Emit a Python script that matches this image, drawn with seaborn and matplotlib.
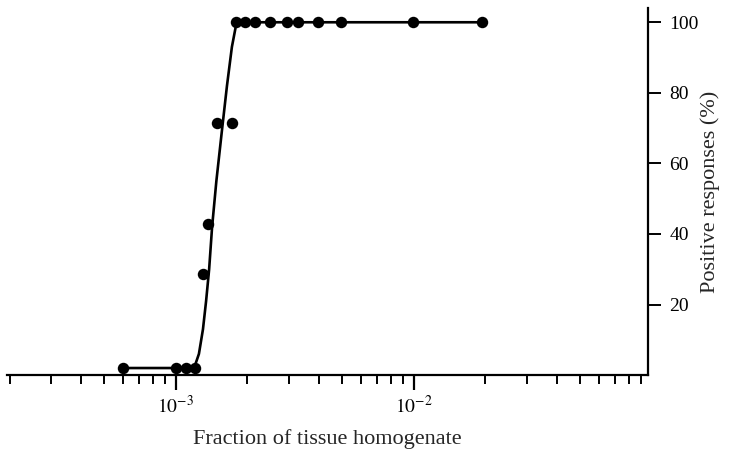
import matplotlib
matplotlib.use("Agg")
import matplotlib.pyplot as plt
import matplotlib.ticker as mticker
import seaborn as sns
import pandas as pd
import numpy as np

# Observed data points
fraction = [6e-4, 1.0e-3, 1.1e-3, 1.2e-3, 1.30e-3, 1.37e-3, 1.49e-3, 1.72e-3,
            1.79e-3, 1.95e-3, 2.15e-3, 2.48e-3, 2.93e-3, 3.25e-3, 3.95e-3,
            4.94e-3, 9.9e-3, 1.93e-2]
response = [2, 2, 2, 2, 28.6, 42.9, 71.4, 71.4,
            100, 100, 100, 100, 100, 100, 100,
            100, 100, 100]

# Fitted curve
curve_x = [6e-4, 1.0e-3, 1.2e-3, 1.25e-3, 1.30e-3, 1.34e-3, 1.38e-3, 1.42e-3,
           1.48e-3, 1.56e-3, 1.64e-3, 1.72e-3, 1.80e-3, 2e-2]
curve_y = [2, 2, 2.5, 6, 13, 21, 30, 42, 55, 69, 82, 93, 100, 100]

y_ticks = [20, 40, 60, 80, 100]
x_major = [1e-3, 1e-2]
x_major_labels = [r"$10^{-3}$", r"$10^{-2}$"]

sns.set_theme(style="ticks")
plt.rcParams["font.family"] = ["Liberation Serif", "DejaVu Serif"]
plt.rcParams["mathtext.fontset"] = "stix"

pts = pd.DataFrame({"fraction": fraction, "response": response})
crv = pd.DataFrame({"x": curve_x, "y": curve_y})

fig = plt.figure(figsize=(7.34, 4.53), dpi=100)
ax = fig.add_axes([0.0095, 0.172, 0.874, 0.810])

sns.lineplot(data=crv, x="x", y="y", ax=ax, color="black", linewidth=1.9,
             sort=False, estimator=None)
sns.scatterplot(data=pts, x="fraction", y="response", ax=ax, color="black",
                s=68, edgecolor="black", linewidth=0, zorder=5)

ax.set_xscale("log")
ax.set_xlim(1.95e-4, 0.097)
ax.set_ylim(0, 104)

ax.xaxis.set_major_locator(mticker.FixedLocator(x_major))
ax.xaxis.set_major_formatter(mticker.FixedFormatter(x_major_labels))
ax.xaxis.set_minor_locator(mticker.LogLocator(base=10, subs=np.arange(2, 10)))
ax.xaxis.set_minor_formatter(mticker.NullFormatter())

ax.yaxis.tick_right()
ax.yaxis.set_label_position("right")
ax.set_yticks(y_ticks)

for s in ["top", "left"]:
    ax.spines[s].set_visible(False)
for s in ["bottom", "right"]:
    ax.spines[s].set_linewidth(1.6)
    ax.spines[s].set_color("black")

ax.tick_params(axis="x", which="major", direction="out", length=11, width=1.6,
               labelsize=14, pad=3, colors="black")
ax.tick_params(axis="x", which="minor", direction="out", length=6.5, width=1.4,
               colors="black")
ax.tick_params(axis="y", which="major", direction="out", length=9, width=1.4,
               labelsize=14, pad=6, colors="black", right=True, left=False)

ax.set_xlabel("Fraction of tissue homogenate", fontsize=16, labelpad=9)
ax.set_ylabel("Positive responses (%)", fontsize=16, labelpad=1)

fig.savefig("out.png", dpi=100, facecolor="white")
